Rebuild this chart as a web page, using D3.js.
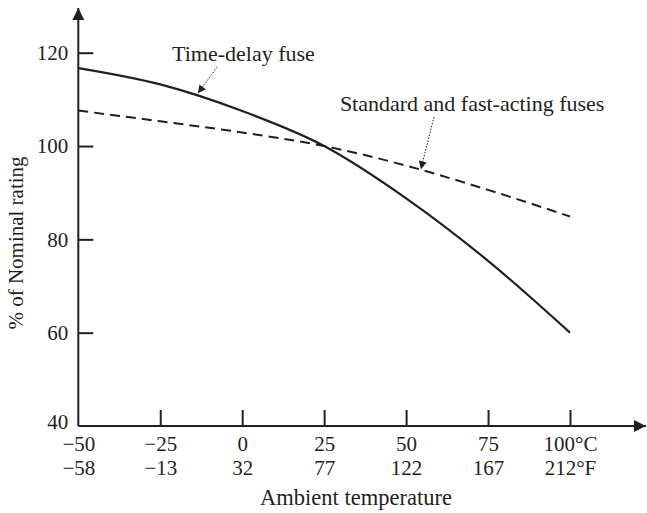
<!DOCTYPE html>
<html>
<head>
<meta charset="utf-8">
<script src="https://cdn.jsdelivr.net/npm/d3@7"></script>
<style>
  body { margin: 0; background: #fff; }
  svg text { font-family: "Liberation Serif", "DejaVu Serif", serif; fill: #231f20; }
</style>
</head>
<body>
<script>
// fuse derating vs ambient temperature

const tempC = [-50, -25, 0, 25, 50, 75, 100];
const tempF = ["\u221258", "\u221213", "32", "77", "122", "167", "212\u00b0F"];
const tempCLabels = ["\u221250", "\u221225", "0", "25", "50", "75", "100\u00b0C"];
const timeDelay = [116.7, 113.2, 107.5, 100, 88.8, 75.4, 60];
const standardFast = [107.6, 105.3, 102.9, 100, 95.8, 90.6, 84.9];
const yTicks = [40, 60, 80, 100, 120];

// annotation text + dotted arrow, in data units
const notes = [
  {text: "Time-delay fuse", tx: -21.4, ty: 118.2, from: [-7.7, 116.9], to: [-13.5, 111.3]},
  {text: "Standard and fast-acting fuses", tx: 29.8, ty: 107.5, from: [58.5, 106.2], to: [54.5, 95.0]}
];

const W = 647, H = 513;
const ink = "#231f20";

const svg = d3.select("body").append("svg")
    .attr("width", W)
    .attr("height", H);

const x = d3.scaleLinear().domain([-50, 100]).range([78.3, 570]);
const y = d3.scaleLinear().domain([40, 120]).range([426, 52.7]);

const defs = svg.append("defs");
defs.append("marker")
    .attr("id", "axArrow")
    .attr("viewBox", "0 0 10 10")
    .attr("refX", 10).attr("refY", 5)
    .attr("markerWidth", 6).attr("markerHeight", 6)
    .attr("markerUnits", "strokeWidth")
    .attr("orient", "auto")
  .append("path")
    .attr("d", "M0,0 L10,5 L0,10 Z")
    .attr("fill", ink);
defs.append("marker")
    .attr("id", "noteArrow")
    .attr("viewBox", "0 0 10 10")
    .attr("refX", 10).attr("refY", 5)
    .attr("markerWidth", 9).attr("markerHeight", 8)
    .attr("markerUnits", "userSpaceOnUse")
    .attr("orient", "auto")
  .append("path")
    .attr("d", "M0,0 L10,5 L0,10 Z")
    .attr("fill", ink);

// axis lines with arrows
svg.append("line")
    .attr("x1", x(-50)).attr("y1", y(40))
    .attr("x2", x(-50)).attr("y2", 8)
    .attr("stroke", ink).attr("stroke-width", 2)
    .attr("marker-end", "url(#axArrow)");
svg.append("line")
    .attr("x1", x(-50)).attr("y1", y(40))
    .attr("x2", 646).attr("y2", y(40))
    .attr("stroke", ink).attr("stroke-width", 2)
    .attr("marker-end", "url(#axArrow)");

// y axis
const yAxis = d3.axisLeft(y)
    .tickValues(yTicks)
    .tickSizeInner(-15)
    .tickSizeOuter(0)
    .tickPadding(10);
const gy = svg.append("g")
    .attr("transform", `translate(${x(-50)},0)`)
    .call(yAxis);
gy.select(".domain").remove();
gy.selectAll(".tick line").attr("stroke", ink).attr("stroke-width", 2)
    .filter(d => d === 40).remove();
gy.selectAll(".tick text").attr("font-size", 21).attr("fill", ink);
gy.selectAll(".tick text").filter(d => d === 40).attr("dy", "0.1em");

// x axis, celsius row
const xAxisC = d3.axisBottom(x)
    .tickValues(tempC)
    .tickFormat((d, i) => tempCLabels[i])
    .tickSizeInner(-16)
    .tickSizeOuter(0)
    .tickPadding(10);
const gx = svg.append("g")
    .attr("transform", `translate(0,${y(40)})`)
    .call(xAxisC);
gx.select(".domain").remove();
gx.selectAll(".tick line").attr("stroke", ink).attr("stroke-width", 2)
    .filter(d => d === -50).remove();
gx.selectAll(".tick text").attr("font-size", 21).attr("fill", ink);

// fahrenheit row
const xAxisF = d3.axisBottom(x)
    .tickValues(tempC)
    .tickFormat((d, i) => tempF[i])
    .tickSize(0)
    .tickPadding(34);
const gf = svg.append("g")
    .attr("transform", `translate(0,${y(40)})`)
    .call(xAxisF);
gf.select(".domain").remove();
gf.selectAll(".tick text").attr("font-size", 21).attr("fill", ink);

// curves
const line = (vals) => d3.line()
    .x((d, i) => x(tempC[i]))
    .y(d => y(d))
    .curve(d3.curveMonotoneX)(vals);

svg.append("path")
    .attr("d", line(timeDelay))
    .attr("fill", "none")
    .attr("stroke", ink)
    .attr("stroke-width", 2.2);

svg.append("path")
    .attr("d", line(standardFast))
    .attr("fill", "none")
    .attr("stroke", ink)
    .attr("stroke-width", 2)
    .attr("stroke-dasharray", "10,6");

// annotations
notes.forEach(n => {
    svg.append("text")
        .attr("x", x(n.tx))
        .attr("y", y(n.ty))
        .attr("font-size", 22)
        .text(n.text);
    svg.append("line")
        .attr("x1", x(n.from[0])).attr("y1", y(n.from[1]))
        .attr("x2", x(n.to[0])).attr("y2", y(n.to[1]))
        .attr("stroke", ink)
        .attr("stroke-width", 1)
        .attr("stroke-dasharray", "1.5,1.5")
        .attr("marker-end", "url(#noteArrow)");
});

// axis titles
svg.append("text")
    .attr("x", 356)
    .attr("y", 505)
    .attr("text-anchor", "middle")
    .attr("font-size", 22.5)
    .text("Ambient temperature");

svg.append("text")
    .attr("transform", "translate(23,243) rotate(-90)")
    .attr("text-anchor", "middle")
    .attr("font-size", 21)
    .text("% of Nominal rating");
</script>
</body>
</html>
